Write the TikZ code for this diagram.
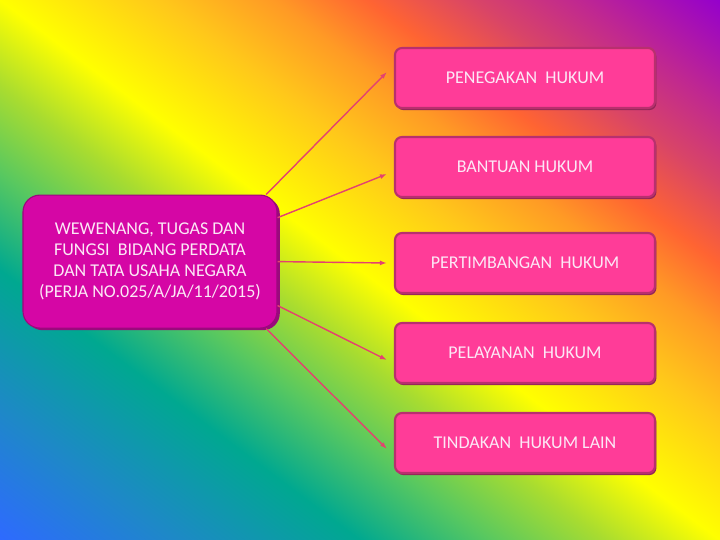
\documentclass[tikz,border=0pt]{standalone}
\usepackage{fontspec}
\setmainfont{Carlito}
\usepackage{tikz}
\usetikzlibrary{arrows.meta,positioning,shadows}

% background colours, from bottom left to top right
\definecolor{bg0}{HTML}{2E6AFF}
\definecolor{bg1}{HTML}{1E88C8}
\definecolor{bg2}{HTML}{00A890}
\definecolor{bg3}{HTML}{58C860}
\definecolor{bg4}{HTML}{A8DC30}
\definecolor{bg5}{HTML}{FFFF00}
\definecolor{bg6}{HTML}{FFC81A}
\definecolor{bg7}{HTML}{FF9A25}
\definecolor{bg8}{HTML}{FF6432}
\definecolor{bg9}{HTML}{D84468}
\definecolor{bg10}{HTML}{C02890}
\definecolor{bg11}{HTML}{9500CC}
\pgfdeclareverticalshading{rainbow}{100bp}{color(0bp)=(bg0); color(25bp)=(bg0);
  color(31bp)=(bg1); color(37.5bp)=(bg2); color(42bp)=(bg3); color(46bp)=(bg4);
  color(50bp)=(bg5); color(55.5bp)=(bg6); color(59.5bp)=(bg7); color(62.75bp)=(bg8);
  color(66.5bp)=(bg9); color(70bp)=(bg10); color(75bp)=(bg11); color(100bp)=(bg11)}

\definecolor{mainface}{HTML}{D506A5}
\definecolor{mainedge}{HTML}{9A0A7C}
\definecolor{pinkface}{HTML}{FF3C98}
\definecolor{pinkedge}{HTML}{B8306E}
\definecolor{arrowpink}{HTML}{E4426F}
\definecolor{textpink}{HTML}{FCE8F6}

\tikzset{
  mainbox/.style={rectangle,rounded corners=12pt,fill=mainface,draw=mainedge,line width=0.8pt,
    minimum width=6.35cm,minimum height=3.325cm,align=center,text=textpink,
    font=\fontsize{12.8}{15}\selectfont,
    general shadow={fill=mainedge,shadow xshift=2pt,shadow yshift=-1.5pt}},
  itembox/.style={rectangle,rounded corners=5pt,fill=pinkface,draw=pinkedge,line width=1.5pt,
    minimum width=6.5cm,minimum height=1.5cm,text=textpink,
    font=\fontsize{12.8}{15}\selectfont,
    general shadow={fill=pinkedge!80!black,shadow xshift=1pt,shadow yshift=-1.5pt}},
  link/.style={draw=arrowpink,line width=1pt,-{Latex[length=5pt,width=3.5pt]}}
}

\begin{document}
\begin{tikzpicture}
% rainbow background, stripes parallel to the diagonal
\begin{scope}
\clip (0,0) rectangle (18,13.5);
\begin{scope}[transform canvas={cm={18,-13.5,18,13.5,(-9,6.75)}}]
\shade[shading=rainbow] (0,0) rectangle (1,1);
\end{scope}
\end{scope}
\useasboundingbox (0,0) rectangle (18,13.5);

% main box
\node[mainbox] (wewenang) at (3.75,6.96) {WEWENANG, TUGAS DAN\\FUNGSI~~BIDANG PERDATA\\DAN TATA USAHA NEGARA\\(PERJA NO.025/A/JA/11/2015)};

% the five tasks
\foreach \name/\y/\txt in {penegakan/11.55/PENEGAKAN~~HUKUM,bantuan/9.325/BANTUAN HUKUM,
  pertimbangan/6.925/PERTIMBANGAN~~HUKUM,pelayanan/4.675/PELAYANAN~~HUKUM,
  tindakan/2.425/TINDAKAN~~HUKUM LAIN} {
  \node[itembox] (\name) at (13.125,\y) {\txt};
}

% links
\foreach \ang/\target/\dy in {30/penegakan/0.15,19/bantuan/-0.175,0/pertimbangan/0,
  -19/pelayanan/-0.175,-30/tindakan/-0.15} {
  \draw[link] (wewenang.\ang) -- ([xshift=-0.175cm,yshift=\dy cm]\target.west);
}
\end{tikzpicture}
\end{document}
